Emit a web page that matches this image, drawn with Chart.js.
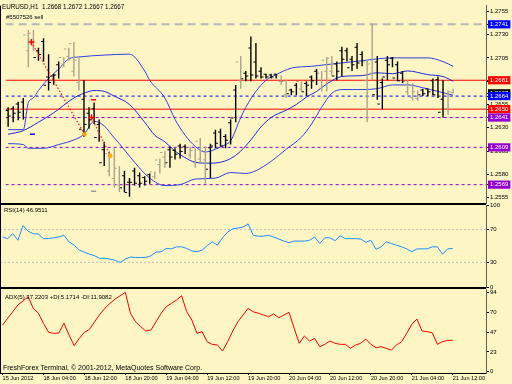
<!DOCTYPE html>
<html><head><meta charset="utf-8">
<script src="https://cdn.jsdelivr.net/npm/chart.js@4.4.1/dist/chart.umd.min.js"></script>
<style>
html,body{margin:0;padding:0;}
body{width:512px;height:384px;overflow:hidden;position:relative;background:#fdf5c4;font-family:"Liberation Sans",Arial,sans-serif;}
canvas{position:absolute;left:0;}
.t{position:absolute;white-space:pre;color:#000;z-index:10;}
</style></head><body>
<canvas id="cMain" width="512" height="210" style="top:0px"></canvas>
<canvas id="cRsi" width="512" height="96" style="top:198px"></canvas>
<canvas id="cAdx" width="512" height="102" style="top:282px"></canvas>
<div class="t" id="hdr" style="left:2px;top:2.5px;font-size:6.3px;line-height:7px"></div>
<div class="t" style="left:6px;top:13.5px;font-size:6px;line-height:7px">#5507526 sell</div>
<div class="t" id="rsiLbl" style="left:4px;top:206.5px;font-size:6px;line-height:7px"></div>
<div class="t" id="adxLbl" style="left:5px;top:293.5px;font-size:6px;line-height:7px"></div>
<div class="t" style="left:3px;top:364px;font-size:7px;line-height:8px">FreshForex Terminal, © 2001-2012, MetaQuotes Software Corp.</div>
<script>
// ---------- DATA ----------
const days = [['15 Jun',20,23],['18 Jun',0,23],['19 Jun',0,23],['20 Jun',0,23],['21 Jun',0,18]];
const times = [];
for (const [d,h0,h1] of days) for (let h=h0; h<=h1; h++) times.push(d + ' ' + String(h).padStart(2,'0') + ':00');
const tickLabels = ['15 Jun 2012','18 Jun 04:00','18 Jun 12:00','18 Jun 20:00','19 Jun 04:00','19 Jun 12:00','19 Jun 20:00','20 Jun 04:00','20 Jun 12:00','20 Jun 20:00','21 Jun 04:00','21 Jun 12:00'];

const open = [
1.2635,1.2642,1.2645,1.2646,1.2729,1.2731,1.2705,1.2708,1.2675,1.2678,
1.2686,1.2705,1.2714,1.2720,1.2702,1.2628,1.2633,1.2638,1.2619,1.2592,
1.2602,1.2600,1.2586,1.2565,1.2560,1.2571,1.2570,1.2570,1.2572,1.2582,
1.2595,1.2603,1.2592,1.2598,1.2601,1.2604,1.2608,1.2605,1.2615,1.2605,
1.2585,1.2610,1.2613,1.2610,1.2616,1.2640,1.2700,1.2682,1.2685,1.2686,
1.2685,1.2684,1.2684,1.2684,1.2685,1.2679,1.2666,1.2668,1.2679,1.2668,
1.2675,1.2680,1.2688,1.2702,1.2704,1.2685,1.2690,1.2703,1.2694,1.2697,
1.2699,1.2700,1.2698,1.2665,1.2655,1.2684,1.2697,1.2683,1.2680,1.2679,
1.2675,1.2668,1.2665,1.2666,1.2668,1.2665,1.2646,1.2666,1.2668];
const high = [
1.2652,1.2653,1.2658,1.2662,1.2735,1.2735,1.2716,1.2726,1.2709,1.2688,
1.2701,1.2706,1.2716,1.2722,1.2706,1.2681,1.2652,1.2657,1.2639,1.2615,
1.2605,1.2608,1.2589,1.2584,1.2576,1.2587,1.2582,1.2578,1.2581,1.2583,
1.2597,1.2605,1.2610,1.2608,1.2613,1.2612,1.2610,1.2608,1.2619,1.2610,
1.2613,1.2628,1.2629,1.2623,1.2639,1.2676,1.2707,1.2691,1.2728,1.2721,
1.2695,1.2688,1.2688,1.2688,1.2686,1.2681,1.2672,1.2678,1.2681,1.2680,
1.2686,1.2693,1.2691,1.2706,1.2707,1.2701,1.2717,1.2716,1.2707,1.2721,
1.2712,1.2702,1.2742,1.2707,1.2683,1.2707,1.2706,1.2701,1.2691,1.2681,
1.2678,1.2670,1.2672,1.2672,1.2683,1.2685,1.2681,1.2670,1.2672];
const low = [
1.2631,1.2636,1.2638,1.2639,1.2695,1.2712,1.2702,1.2701,1.2670,1.2676,
1.2683,1.2695,1.2702,1.2685,1.2670,1.2620,1.2629,1.2634,1.2615,1.2589,
1.2578,1.2566,1.2561,1.2561,1.2556,1.2568,1.2566,1.2568,1.2570,1.2575,
1.2581,1.2587,1.2587,1.2596,1.2597,1.2602,1.2597,1.2587,1.2591,1.2570,
1.2576,1.2608,1.2610,1.2608,1.2612,1.2636,1.2672,1.2680,1.2680,1.2683,
1.2683,1.2683,1.2683,1.2683,1.2676,1.2662,1.2665,1.2665,1.2669,1.2664,
1.2672,1.2676,1.2669,1.2669,1.2686,1.2681,1.2685,1.2701,1.2691,1.2693,
1.2696,1.2636,1.2681,1.2660,1.2650,1.2681,1.2695,1.2680,1.2678,1.2665,
1.2659,1.2659,1.2664,1.2664,1.2665,1.2662,1.2641,1.2644,1.2667];
const close = [
1.2648,1.2650,1.2655,1.2657,1.2712,1.2718,1.2712,1.2722,1.2684,1.2685,
1.2697,1.2698,1.2706,1.2690,1.2678,1.2660,1.2645,1.2650,1.2633,1.2606,
1.2583,1.2575,1.2568,1.2578,1.2571,1.2583,1.2578,1.2576,1.2579,1.2577,
1.2590,1.2598,1.2606,1.2605,1.2610,1.2609,1.2600,1.2592,1.2596,1.2595,
1.2608,1.2624,1.2625,1.2620,1.2635,1.2670,1.2680,1.2688,1.2715,1.2700,
1.2690,1.2687,1.2686,1.2687,1.2679,1.2665,1.2670,1.2675,1.2671,1.2677,
1.2684,1.2690,1.2672,1.2690,1.2690,1.2698,1.2712,1.2712,1.2703,1.2716,
1.2708,1.2680,1.2688,1.2700,1.2678,1.2702,1.2704,1.2697,1.2688,1.2668,
1.2662,1.2661,1.2670,1.2671,1.2680,1.2681,1.2660,1.2650,1.2667];

// Bollinger band readings: [bar index, price]
const bbUpper = [[0,1.2628],[3,1.2628],[4,1.2657],[5,1.2662],[6,1.2670],[8,1.2683],[10,1.2693],[12,1.2704],[14,1.2706],[19,1.2708],[24,1.2709],[27,1.2691],[28,1.2681],[31,1.2662],[33,1.2639],[35,1.2622],[37,1.2610],[39,1.2604],[41,1.2607],[43,1.2612],[44,1.2616],[46,1.2641],[47,1.2652],[49,1.2669],[51,1.2681],[53,1.2687],[56,1.2694],[60,1.2696],[65,1.2699],[70,1.2702],[76,1.2705],[83,1.2705],[86,1.2701],[88,1.2696]];
const bbMiddle = [[0,1.2623],[3,1.2627],[6,1.2636],[9,1.2646],[13,1.2662],[16,1.2669],[17,1.2670],[19,1.2669],[21,1.2664],[24,1.2655],[27,1.2636],[29,1.2622],[31,1.2615],[33,1.2605],[35,1.2598],[37,1.2593],[40,1.2592],[42,1.2593],[44,1.2597],[46,1.2605],[48,1.2617],[50,1.2631],[52,1.2641],[55,1.2649],[57,1.2655],[59,1.2663],[61,1.2669],[63,1.2677],[66,1.2685],[70,1.2686],[73,1.2689],[76,1.2688],[79,1.2691],[83,1.2687],[86,1.2685],[88,1.2680]];
const bbLower = [[0,1.2613],[3,1.2612],[4,1.2608],[7,1.2608],[10,1.2612],[13,1.2617],[15,1.2623],[17,1.2637],[19,1.2632],[21,1.2619],[22,1.2613],[25,1.2593],[28,1.2576],[31,1.2568],[34,1.2569],[37,1.2575],[41,1.2576],[44,1.2582],[47,1.2581],[49,1.2584],[52,1.2594],[55,1.2607],[58,1.2620],[60,1.2634],[62,1.2652],[64,1.2667],[66,1.2671],[70,1.2671],[73,1.2672],[76,1.2676],[79,1.2676],[82,1.2673],[85,1.2669],[88,1.2665]];

const orderLevel = 1.2741;
const resistance = [1.2681, 1.2650];
const pivot = 1.2664;
const supports = [1.2641, 1.2609, 1.2569];
const priceTicks = [1.2555,1.2580,1.2605,1.2630,1.2655,1.2680,1.2705,1.2730,1.2755];

// trades: [open bar, open price, close bar, close price]
const trades = [[4.6,1.2722,15.1,1.2623],[16.5,1.2641,20.2,1.2600]];
const markBlue = [[4.8,1.2623]];
const markRed = [[16.9,1.2660]];
const markGray = [[16.9,1.2562]];

const rsi = [61,59,65,57,75,68,65,64.5,59,59,
 60,61,63,55,51,45,42.5,40,38,35,
 35,34,32.5,30,34,36.5,36,36,36,38,
 42.5,43,47,46.5,49,49,47,44,43,45,
 50.5,55,51,60,67,71,72,73,77,63,
 62,62,63,61,58.5,56,54,56,56,56,
 57,61,53,60,60,56.5,62.5,59,59,59,
 58.5,54.5,57,46,49,55,53,51,49,46.5,
 43,46.5,46.5,46.5,49,49,40,46.5,46.9511];
const rsiLevels = [70, 30];
const rsiTicks = [0, 30, 70, 100];

const adx = [55.2,63.2,71.0,79.0,83.7,88.8,75.0,69.2,57.3,46.7,
 45.4,45.8,57.3,43.4,30.8,39.5,46.7,50.1,59.1,67.9,
 75.0,80.9,86.0,89.9,93.9,69.2,59.1,53.3,48.2,49.3,
 59.1,69.2,76.9,80.9,84.9,89.9,71.0,61.2,45.4,47.4,
 35.5,32.4,31.6,24.5,35.5,48.2,59.1,67.1,75.0,71.0,
 69.2,67.1,65.1,68.3,63.9,67.1,70.3,51.4,33.6,42.3,
 36.3,39.5,29.6,32.4,36.3,33.6,32.4,32.4,27.7,31.6,
 33.6,38.7,32.4,28.4,29.6,27.7,25.7,31.6,35.5,45.4,
 56.1,62.4,48.2,47.4,46.1,32.4,35.5,37.1,37.2203];
const adxTicks = [0, 23.5, 47, 70.5, 94];
const plusDI = 5.1714, minusDI = 11.9082;

// ---------- LABELS ----------
const last = open.length - 1;
document.getElementById('hdr').textContent = 'EURUSD,H1  ' + [open[last],high[last],low[last],close[last]].map(v=>v.toFixed(4)).join(' ');
document.getElementById('rsiLbl').textContent = 'RSI(14) ' + rsi[last].toFixed(4);
document.getElementById('adxLbl').textContent = 'ADX(5) ' + adx[last].toFixed(4) + ' +DI:' + plusDI.toFixed(4) + ' -DI:' + minusDI.toFixed(4);

// ---------- STYLE ----------
Chart.defaults.font.family = "'Liberation Sans', Arial, sans-serif";
Chart.defaults.color = '#000';
Chart.defaults.animation = false;
Chart.defaults.responsive = false;
Chart.defaults.plugins.legend.display = false;
Chart.defaults.plugins.tooltip.enabled = false;
Chart.defaults.events = [];

const UP = '#000000', DOWN = '#a9a58c';
const barColor = c => close[c.dataIndex] >= open[c.dataIndex] ? UP : DOWN;
const XMIN = -0.5, XMAX = times.length - 0.5;
const span = v => [{x: XMIN, y: v}, {x: XMAX, y: v}];
const pts = arr => arr.map(([x, y]) => ({x, y}));

const paneFrame = {
  id: 'paneFrame',
  afterDraw(chart, args, opts) {
    const {ctx, chartArea: a} = chart;
    ctx.save();
    ctx.fillStyle = '#000';
    ctx.fillRect(0, a.top, 1, a.bottom - a.top);
    if (opts.bottom) ctx.fillRect(0, a.bottom, a.right, opts.bottom);
    ctx.restore();
  }
};

const yFit = s => { s.width = 26; s.paddingTop = 0; s.paddingBottom = 0; };
const yGrid = {drawOnChartArea: false, drawTicks: true, tickLength: 3, tickColor: '#000', tickWidth: 1};
const yBorder = {display: true, color: '#606060', width: 1};
const hiddenX = {type: 'category', display: false, offset: true};
const hiddenXL = {type: 'linear', axis: 'x', position: 'bottom', display: false, offset: false,
                  min: XMIN, max: XMAX, grid: {offset: false}};

// ---------- MAIN PANE ----------
const boxes = [
  {v: close[last], c: '#000000'},
  {v: orderLevel, c: '#0000ff'},
  {v: resistance[0], c: '#ff0000'},
  {v: resistance[1], c: '#ff0000'},
  {v: pivot, c: '#0000ff'},
  {v: supports[0], c: '#9400d3'},
  {v: supports[1], c: '#9400d3'},
  {v: supports[2], c: '#9400d3'}
];
const mainTicks = priceTicks.concat(boxes.map(b => b.v));
const nReg = priceTicks.length;

const lineDs = (data, color, extra) => Object.assign({
  type: 'line', data, xAxisID: 'xl', yAxisID: 'y', borderColor: color, borderWidth: 1,
  pointRadius: 0, fill: false, order: 3
}, extra || {});

const mainDatasets = [
  {type: 'bar', data: low.map((l, i) => [l, high[i]]), xAxisID: 'x', yAxisID: 'y',
   backgroundColor: barColor, maxBarThickness: 1.4, grouped: false, inflateAmount: 0, borderWidth: 0, order: 1},
  {type: 'bar', data: open.map(v => [v, v]), xAxisID: 'x', yAxisID: 'y',
   backgroundColor: barColor, barThickness: 2.5, minBarLength: 1, inflateAmount: 0, borderWidth: 0, order: 1},
  {type: 'bar', data: close.map(v => [v, v]), xAxisID: 'x', yAxisID: 'y',
   backgroundColor: barColor, barThickness: 2.5, minBarLength: 1, inflateAmount: 0, borderWidth: 0, order: 1},
  lineDs(pts(bbUpper), '#2f3fe0', {cubicInterpolationMode: 'monotone', order: 2}),
  lineDs(pts(bbMiddle), '#1a28d8', {cubicInterpolationMode: 'monotone', order: 2}),
  lineDs(pts(bbLower), '#2f3fe0', {cubicInterpolationMode: 'monotone', order: 2}),
  lineDs(span(orderLevel), '#b8b8b8', {borderWidth: 2, borderDash: [8, 5]}),
  ...resistance.map(v => lineDs(span(v), '#ff0000')),
  lineDs(span(pivot), '#0000ff', {borderDash: [3, 3]}),
  ...supports.map(v => lineDs(span(v), '#9400d3', {borderDash: [3, 3]})),
  ...trades.map(t => lineDs([{x: t[0], y: t[1]}, {x: t[2], y: t[3]}], '#ff2020', {
    borderDash: [1.5, 2], borderWidth: 1.3, order: 0,
    pointStyle: ['cross', 'circle'], pointRadius: [3, 1.8], pointBorderWidth: [1.6, 1],
    pointBorderColor: ['#ff0000', '#ff9900'], pointBackgroundColor: ['#ff0000', '#ffa500']
  })),
  lineDs(pts(markBlue), '#0000ff', {showLine: false, pointStyle: 'line', pointRadius: 2.5, pointBorderWidth: 1.5, pointBorderColor: '#0000ff', order: 0}),
  lineDs(pts(markRed), '#ff0000', {showLine: false, pointStyle: 'line', pointRadius: 2.5, pointBorderWidth: 1.5, pointBorderColor: '#ff0000', order: 0}),
  lineDs(pts(markGray), '#9a9aa8', {showLine: false, pointStyle: 'line', pointRadius: 2.5, pointBorderWidth: 1.5, pointBorderColor: '#9a9aa8', order: 0})
];

new Chart(document.getElementById('cMain'), {
  type: 'bar',
  data: {labels: times, datasets: mainDatasets},
  plugins: [paneFrame],
  options: {
    layout: {padding: {top: 0, bottom: 7, left: 0, right: 0}},
    plugins: {paneFrame: {bottom: 2}},
    scales: {
      x: hiddenX,
      xl: hiddenXL,
      y: {
        type: 'linear', position: 'right', min: 1.25493, max: 1.27611, bounds: 'data',
        afterBuildTicks: s => { s.ticks = mainTicks.map(v => ({value: v})); },
        afterFit: yFit,
        border: yBorder,
        grid: yGrid,
        ticks: {
          autoSkip: false, padding: 1, font: {size: 6},
          callback: v => Number(v).toFixed(4),
          color: c => c.index >= nReg ? '#ffffff' : '#000000',
          showLabelBackdrop: c => c.index >= nReg,
          backdropColor: c => c.index >= nReg ? boxes[c.index - nReg].c : 'rgba(0,0,0,0)',
          backdropPadding: {left: 2, right: 2, top: 0.5, bottom: 0.5}
        }
      }
    }
  }
});

// ---------- RSI PANE ----------
new Chart(document.getElementById('cRsi'), {
  type: 'line',
  data: {labels: times, datasets: [
    {data: rsi, xAxisID: 'x', yAxisID: 'y', borderColor: '#1e90ff', borderWidth: 1, pointRadius: 0, order: 0},
    ...rsiLevels.map(v => ({data: span(v), xAxisID: 'xl', yAxisID: 'y', borderColor: '#bdbdbd', borderWidth: 1, borderDash: [2, 2], pointRadius: 0, order: 1}))
  ]},
  plugins: [paneFrame],
  options: {
    layout: {padding: {top: 7, bottom: 7, left: 0, right: 0}},
    plugins: {paneFrame: {bottom: 2}},
    scales: {
      x: hiddenX,
      xl: hiddenXL,
      y: {
        type: 'linear', position: 'right', min: 0, max: 100, bounds: 'data',
        afterBuildTicks: s => { s.ticks = rsiTicks.map(v => ({value: v})); },
        afterFit: yFit, border: yBorder, grid: yGrid,
        ticks: {autoSkip: false, padding: 1, font: {size: 6}, callback: v => String(Math.floor(v))}
      }
    }
  }
});

// ---------- ADX PANE ----------
new Chart(document.getElementById('cAdx'), {
  type: 'line',
  data: {labels: times, datasets: [
    {data: adx, xAxisID: 'x', yAxisID: 'y', borderColor: '#ff0000', borderWidth: 1, pointRadius: 0}
  ]},
  plugins: [paneFrame],
  options: {
    layout: {padding: {top: 7, bottom: 0, left: 0, right: 0}},
    plugins: {paneFrame: {bottom: 0}},
    scales: {
      x: {
        type: 'category', offset: true, position: 'bottom',
        afterFit: s => { s.height = 11; s.paddingLeft = 0; s.paddingRight = 0; },
        border: {display: true, color: '#000', width: 1},
        grid: {display: true, drawOnChartArea: false, drawTicks: true, tickLength: 2, offset: false,
               tickColor: c => (c.index % 8 === 0 && tickLabels[c.index / 8]) ? '#000' : 'rgba(0,0,0,0)'},
        ticks: {autoSkip: false, maxRotation: 0, minRotation: 0, align: 'start', padding: 0,
                font: {size: 5.6},
                callback: (v, i) => (i % 8 === 0 && tickLabels[i / 8]) ? tickLabels[i / 8] : ''}
      },
      y: {
        type: 'linear', position: 'right', min: -1.5, max: 97.9, bounds: 'data',
        afterBuildTicks: s => { s.ticks = adxTicks.map(v => ({value: v})); },
        afterFit: yFit, border: yBorder, grid: yGrid,
        ticks: {autoSkip: false, padding: 1, font: {size: 6}, callback: v => String(Math.floor(v))}
      }
    }
  }
});
</script>
</body></html>
